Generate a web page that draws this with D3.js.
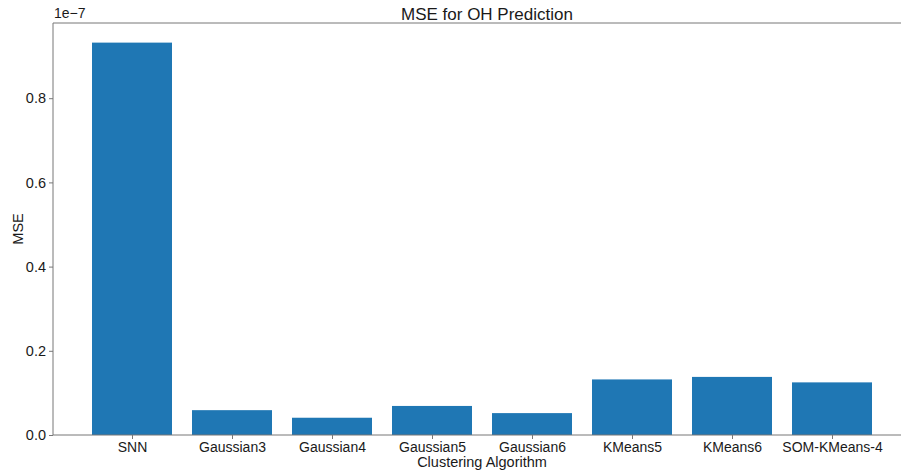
<!DOCTYPE html>
<html>
<head>
<meta charset="utf-8">
<script src="https://cdn.jsdelivr.net/npm/d3@7"></script>
<style>
  html, body { margin: 0; padding: 0; background: #fff; }
  svg { display: block; }
  svg text { font-family: "Liberation Sans", Arial, sans-serif; }
</style>
</head>
<body>
<svg id="chart" width="901" height="473"></svg>
<script>
// Mean squared error per clustering method (values in units of 1e-7)
const categories = ["SNN", "Gaussian3", "Gaussian4", "Gaussian5", "Gaussian6", "KMeans5", "KMeans6", "SOM-KMeans-4"];
const mseValues = [0.932, 0.059, 0.041, 0.069, 0.052, 0.132, 0.138, 0.125];
const yTicks = [0.0, 0.2, 0.4, 0.6, 0.8];

const width = 901, height = 473;
const margin = { left: 53, right: -10, top: 23, bottom: 38 };
const plotW = width - margin.left - margin.right;
const plotH = height - margin.top - margin.bottom;
const fontStack = "'Liberation Sans', Arial, sans-serif";

const svg = d3.select("#chart");
const g = svg.append("g").attr("transform", `translate(${margin.left},${margin.top})`);

// Category positions: bars 0.8 wide with a 5% margin on each side
const n = categories.length;
const xLin = d3.scaleLinear().domain([-0.4 - 0.39, n - 1 + 0.4 + 0.39]).range([0, plotW]);
const yMax = d3.max(mseValues) * 1.05;
const y = d3.scaleLinear().domain([0, yMax]).range([plotH, 0]);

// Bars
g.selectAll("rect.bar")
  .data(mseValues)
  .join("rect")
  .attr("class", "bar")
  .attr("x", (d, i) => xLin(i - 0.4))
  .attr("width", (d, i) => xLin(i + 0.4) - xLin(i - 0.4))
  .attr("y", d => y(d))
  .attr("height", d => y(0) - y(d))
  .attr("fill", "#1f77b4");

const spineColor = "#777";
const textColor = "#1a1a1a";

// Y axis
const yAxis = g.append("g")
  .call(d3.axisLeft(y).tickValues(yTicks).tickFormat(d3.format(".1f")).tickSize(4).tickPadding(3))
  .attr("font-family", fontStack);
yAxis.select(".domain").attr("stroke", spineColor).attr("d", `M0,${plotH}V0`);
yAxis.selectAll(".tick line").attr("stroke", spineColor);
yAxis.selectAll(".tick text").attr("fill", textColor).style("font-size", "14.5px");

// X axis
const xAxis = g.append("g")
  .attr("transform", `translate(0,${plotH})`)
  .call(d3.axisBottom(xLin).tickValues(d3.range(n)).tickFormat(i => categories[i]).tickSize(4).tickPadding(3))
  .attr("font-family", fontStack);
xAxis.select(".domain").attr("stroke", spineColor).attr("d", `M0,0H${plotW}`);
xAxis.selectAll(".tick line").attr("stroke", spineColor);
xAxis.selectAll(".tick text").attr("fill", textColor).style("font-size", "14px");

// Top spine
g.append("line")
  .attr("x1", 0).attr("x2", plotW).attr("y1", 0).attr("y2", 0)
  .attr("stroke", spineColor);

// Offset label for the y scale
g.append("text")
  .attr("x", 1).attr("y", -5)
  .attr("fill", textColor)
  .style("font-size", "14px")
  .text("1e\u22127");

// Title
svg.append("text")
  .attr("x", margin.left + plotW / 2 + 5)
  .attr("y", 20)
  .attr("text-anchor", "middle")
  .attr("fill", textColor)
  .style("font-size", "17px")
  .text("MSE for OH Prediction");

// Axis titles
svg.append("text")
  .attr("x", 482)
  .attr("y", 467)
  .attr("text-anchor", "middle")
  .attr("fill", textColor)
  .style("font-size", "14.5px")
  .text("Clustering Algorithm");

svg.append("text")
  .attr("transform", `translate(23,${margin.top + plotH / 2}) rotate(-90)`)
  .attr("text-anchor", "middle")
  .attr("fill", textColor)
  .style("font-size", "14.5px")
  .text("MSE");
</script>
</body>
</html>
